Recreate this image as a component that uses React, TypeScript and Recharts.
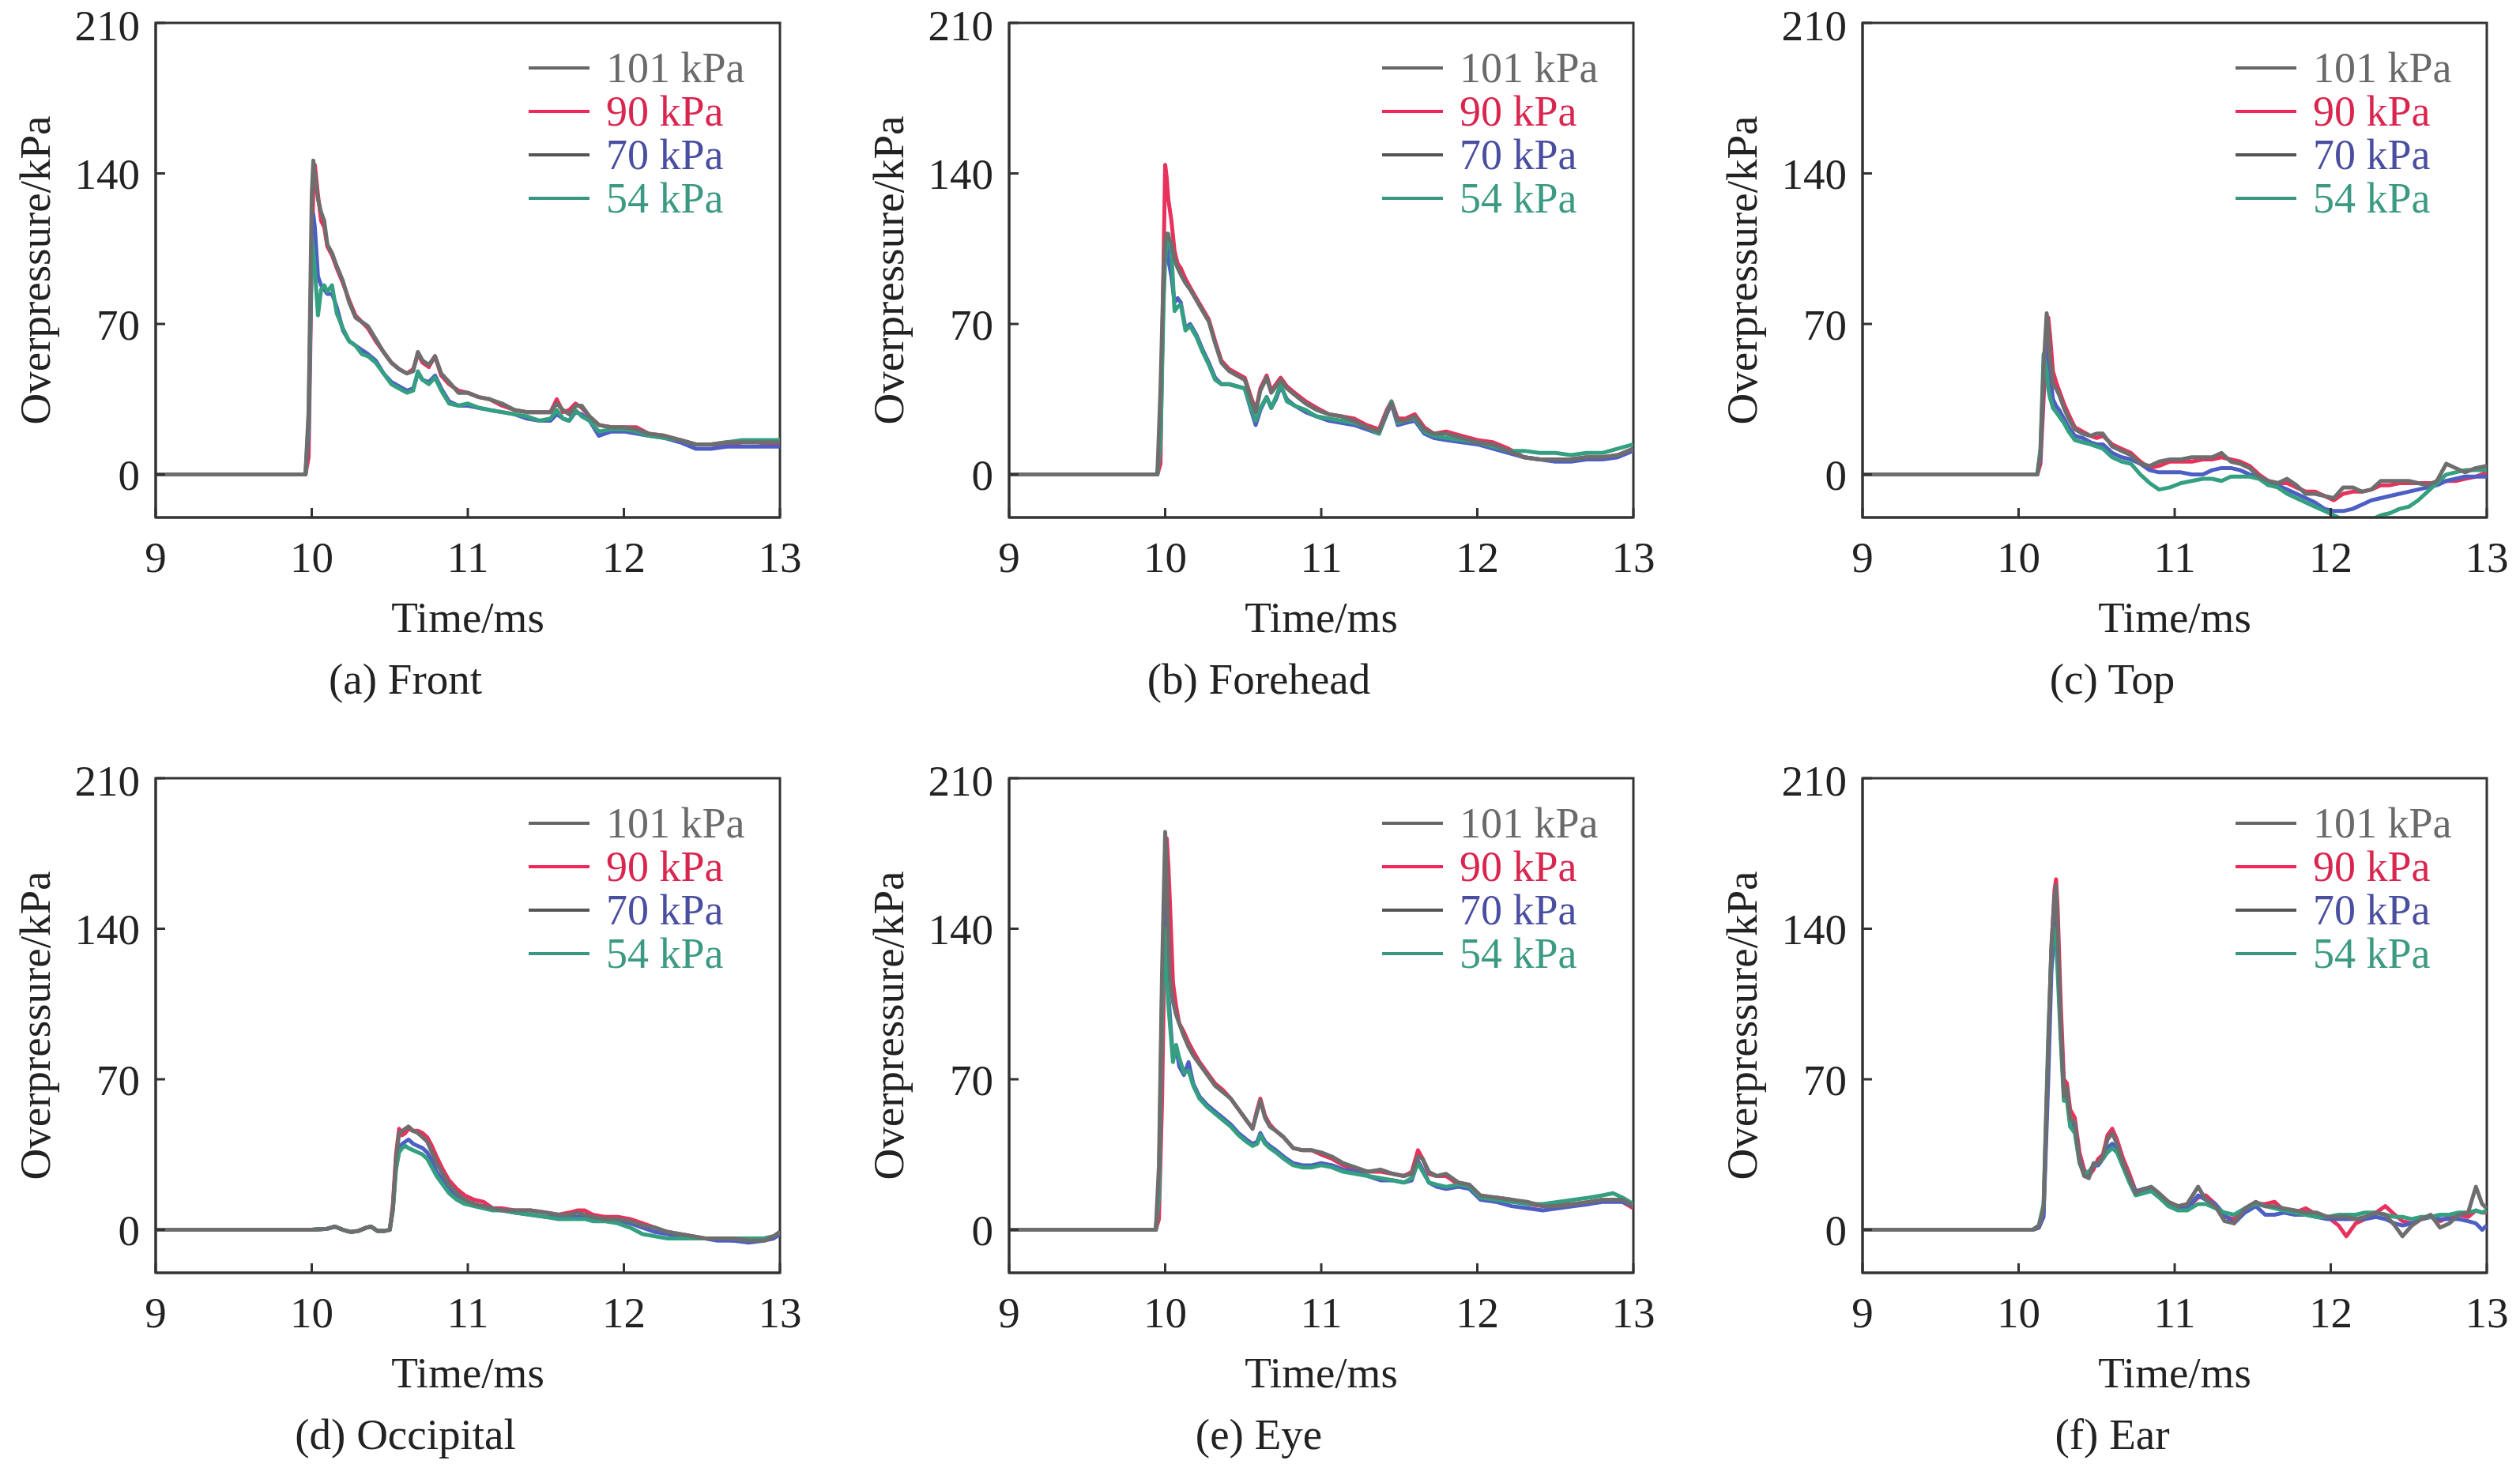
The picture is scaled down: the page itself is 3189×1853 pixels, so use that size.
import React from 'react';
import { LineChart, Line, XAxis, YAxis, ReferenceArea } from 'recharts';

// Shared axis setup for all six panels
const xTicks = [9, 10, 11, 12, 13];
const yTicks = [0, 70, 140, 210];
const seriesNames = ['101 kPa', '90 kPa', '70 kPa', '54 kPa'];
const lineColors = ['#6e6e6e', '#e8325c', '#4e5fc4', '#34a081'];
const legendLineColors = ['#666666', '#f0285a', '#555555', '#3a9582'];
const legendTextColors = ['#6a6a6a', '#d9264f', '#4a4ea0', '#3c9a82'];

// (a) Front
const frontTime = [9, 9.5, 9.96, 9.98, 10.0, 10.01, 10.02, 10.04, 10.06, 10.08, 10.1, 10.13, 10.16, 10.2, 10.24, 10.28, 10.32, 10.36, 10.41, 10.46, 10.51, 10.56, 10.61, 10.65, 10.68, 10.71, 10.75, 10.79, 10.83, 10.88, 10.94, 11.0, 11.07, 11.14, 11.22, 11.3, 11.38, 11.46, 11.53, 11.57, 11.61, 11.65, 11.69, 11.73, 11.78, 11.84, 11.92, 12.0, 12.08, 12.16, 12.26, 12.36, 12.46, 12.56, 12.66, 12.76, 12.86, 12.94, 13.0];
const front101 = [0, 0, 0, 30, 130, 146, 140, 128, 122, 118, 107, 103, 97, 90, 80, 73, 71, 69, 63, 57, 52, 49, 47, 48, 57, 53, 51, 55, 47, 43, 38, 38, 36, 35, 33, 30, 29, 29, 29, 33, 30, 28, 32, 32, 27, 23, 22, 22, 21, 19, 18, 16, 14, 14, 15, 15, 15, 15, 15];
const front90 = [0, 0, 0, 8, 100, 132, 144, 130, 118, 115, 106, 102, 96, 89, 81, 74, 71, 68, 62, 57, 52, 49, 47, 49, 56, 52, 50, 55, 46, 42, 39, 38, 36, 35, 32, 30, 29, 29, 29, 35, 29, 30, 33, 31, 27, 23, 22, 22, 22, 19, 18, 16, 14, 14, 14, 15, 15, 14, 14];
const front70 = [0, 0, 0, 20, 105, 121, 115, 92, 88, 86, 84, 84, 78, 67, 62, 60, 58, 56, 53, 47, 43, 41, 39, 40, 47, 44, 43, 46, 40, 34, 32, 32, 31, 30, 29, 28, 26, 25, 25, 28, 26, 25, 29, 28, 25, 18, 20, 20, 19, 18, 17, 15, 12, 12, 13, 13, 13, 13, 13];
const front54 = [0, 0, 0, 25, 110, 104, 95, 74, 86, 88, 85, 88, 75, 68, 62, 60, 56, 55, 52, 47, 42, 40, 38, 39, 48, 44, 42, 45, 39, 33, 32, 33, 31, 30, 29, 28, 27, 25, 26, 30, 26, 25, 30, 27, 25, 20, 21, 21, 20, 18, 17, 16, 14, 14, 15, 16, 16, 16, 16];

// (b) Forehead
const foreheadTime = [9, 9.5, 9.95, 9.97, 9.99, 10.0, 10.01, 10.02, 10.04, 10.06, 10.08, 10.1, 10.13, 10.16, 10.2, 10.24, 10.28, 10.32, 10.36, 10.41, 10.46, 10.51, 10.55, 10.58, 10.61, 10.65, 10.68, 10.71, 10.74, 10.78, 10.83, 10.9, 10.97, 11.05, 11.13, 11.21, 11.29, 11.37, 11.42, 11.45, 11.49, 11.54, 11.6, 11.66, 11.72, 11.8, 11.9, 12.0, 12.1, 12.2, 12.3, 12.4, 12.5, 12.6, 12.7, 12.8, 12.9, 13.0];
const forehead101 = [0, 0, 0, 40, 95, 108, 112, 110, 108, 100, 96, 93, 89, 86, 81, 76, 71, 61, 52, 48, 46, 44, 35, 29, 39, 45, 38, 41, 44, 40, 37, 33, 30, 28, 27, 25, 22, 20, 29, 33, 25, 25, 27, 21, 19, 19, 17, 15, 14, 11, 8, 7, 7, 7, 8, 8, 9, 12];
const forehead90 = [0, 0, 0, 5, 100, 144, 138, 128, 118, 104, 98, 96, 91, 87, 82, 77, 72, 62, 53, 49, 47, 45, 36, 30, 40, 46, 39, 42, 45, 41, 38, 34, 31, 28, 27, 26, 23, 21, 30, 34, 26, 26, 28, 22, 19, 20, 18, 16, 15, 12, 8, 7, 7, 7, 8, 8, 9, 12];
const forehead70 = [0, 0, 0, 20, 90, 105, 109, 100, 92, 80, 82, 80, 68, 70, 65, 58, 52, 45, 42, 42, 41, 40, 30, 23, 30, 36, 31, 35, 41, 35, 32, 29, 27, 25, 24, 23, 21, 19, 28, 33, 23, 24, 25, 19, 17, 16, 15, 14, 12, 10, 8, 7, 6, 6, 7, 7, 8, 11];
const forehead54 = [0, 0, 0, 15, 80, 100, 108, 112, 104, 76, 78, 79, 67, 69, 64, 57, 51, 44, 42, 42, 41, 40, 31, 25, 31, 36, 31, 36, 42, 34, 32, 30, 27, 26, 25, 24, 22, 19, 29, 34, 24, 25, 26, 20, 18, 17, 16, 15, 13, 11, 11, 10, 10, 9, 10, 10, 12, 14];

// (c) Top
const topTime = [9, 9.5, 10.0, 10.12, 10.14, 10.16, 10.18, 10.19, 10.2, 10.22, 10.24, 10.26, 10.29, 10.32, 10.36, 10.41, 10.46, 10.5, 10.54, 10.6, 10.66, 10.72, 10.78, 10.84, 10.9, 10.97, 11.04, 11.11, 11.18, 11.24, 11.3, 11.36, 11.42, 11.48, 11.54, 11.6, 11.66, 11.72, 11.78, 11.84, 11.9, 11.96, 12.02, 12.08, 12.14, 12.2, 12.26, 12.32, 12.38, 12.44, 12.5, 12.56, 12.62, 12.68, 12.74, 12.8, 12.86, 12.93, 13.0];
const top101 = [0, 0, 0, 0, 10, 50, 75, 68, 55, 42, 40, 37, 31, 26, 21, 19, 18, 19, 19, 13, 11, 9, 5, 4, 6, 7, 7, 8, 8, 8, 10, 6, 5, 3, -1, -3, -4, -2, -5, -9, -9, -10, -11, -6, -6, -8, -7, -3, -3, -3, -3, -4, -5, -3, 5, 3, 1, 3, 4];
const top90 = [0, 0, 0, 0, 5, 35, 65, 73, 66, 48, 43, 39, 33, 28, 22, 20, 18, 17, 18, 14, 12, 10, 6, 3, 4, 6, 6, 6, 7, 7, 8, 7, 6, 4, 0, -3, -4, -4, -6, -8, -8, -10, -12, -9, -8, -8, -7, -5, -5, -4, -4, -4, -4, -4, -3, -3, -2, -1, 1];
const top70 = [0, 0, 0, 0, 8, 45, 60, 55, 48, 35, 32, 30, 26, 22, 18, 17, 15, 14, 14, 10, 8, 7, 5, 2, 1, 1, 1, 0, 0, 2, 3, 3, 2, 0, -1, -4, -5, -7, -9, -11, -13, -16, -17, -17, -16, -14, -12, -11, -10, -9, -8, -7, -6, -5, -3, -2, -1, -1, -1];
const top54 = [0, 0, 0, 0, 12, 56, 48, 40, 36, 31, 29, 27, 24, 20, 16, 15, 14, 13, 12, 8, 6, 5, 0, -4, -7, -6, -4, -3, -2, -2, -3, -1, -1, -1, -2, -5, -6, -9, -11, -13, -15, -17, -19, -21, -22, -22, -21, -19, -18, -16, -15, -12, -8, -4, 0, 1, 2, 2, 2];

// (d) Occipital
const occipitalTime = [9, 9.5, 10.0, 10.1, 10.15, 10.2, 10.25, 10.3, 10.35, 10.38, 10.42, 10.47, 10.5, 10.52, 10.54, 10.56, 10.58, 10.6, 10.62, 10.65, 10.68, 10.71, 10.74, 10.77, 10.8, 10.84, 10.88, 10.93, 10.98, 11.04, 11.1, 11.16, 11.22, 11.3, 11.4, 11.5, 11.58, 11.65, 11.7, 11.75, 11.8, 11.88, 11.96, 12.04, 12.12, 12.2, 12.28, 12.36, 12.44, 12.52, 12.6, 12.7, 12.8, 12.9, 12.96, 13.0];
const occipital101 = [0, 0, 0, 0.5, 1.5, 0, -1, -0.5, 1, 1.5, -0.5, -0.5, 0, 10, 33, 45, 46, 47, 48, 46, 45, 43, 41, 36, 31, 26, 21, 17, 14, 12, 11, 10, 9, 9, 9, 8, 7, 7, 8, 7, 6, 5, 5, 4, 2, 1, -1, -2, -3, -4, -4, -4, -5, -5, -3, -1];
const occipital90 = [0, 0, 0, 0.5, 1.5, 0, -1, -0.5, 1, 1.5, -0.5, -0.5, 0, 12, 35, 47, 44, 45, 47, 46, 46, 45, 43, 39, 34, 28, 23, 19, 16, 14, 13, 10, 10, 9, 9, 8, 7, 8, 9, 9, 7, 6, 6, 5, 3, 1, -1, -2, -3, -4, -4, -5, -5, -4, -3, -1];
const occipital70 = [0, 0, 0, 0.5, 1.5, 0, -1, -0.5, 1, 1.5, -0.5, -0.5, 0, 10, 30, 38, 40, 41, 42, 40, 39, 38, 36, 32, 27, 23, 19, 16, 14, 12, 11, 10, 9, 8, 7, 6, 6, 6, 6, 6, 5, 5, 4, 3, 1, -1, -2, -3, -4, -4, -5, -5, -6, -5, -4, -2];
const occipital54 = [0, 0, 0, 0.5, 1.5, 0, -1, -0.5, 1, 1.5, -0.5, -0.5, 0, 9, 28, 36, 38, 39, 38, 37, 36, 35, 33, 29, 25, 21, 17, 14, 12, 11, 10, 9, 9, 8, 7, 6, 5, 5, 5, 5, 4, 4, 3, 1, -2, -3, -4, -4, -4, -4, -4, -4, -4, -4, -3, -1];

// (e) Eye
const eyeTime = [9, 9.5, 9.94, 9.96, 9.98, 10.0, 10.01, 10.02, 10.03, 10.05, 10.07, 10.09, 10.12, 10.15, 10.18, 10.22, 10.27, 10.32, 10.37, 10.42, 10.47, 10.52, 10.56, 10.59, 10.61, 10.64, 10.67, 10.71, 10.76, 10.82, 10.88, 10.94, 11.0, 11.07, 11.14, 11.22, 11.3, 11.38, 11.46, 11.53, 11.58, 11.62, 11.65, 11.69, 11.74, 11.8, 11.88, 11.95, 12.02, 12.12, 12.22, 12.32, 12.42, 12.52, 12.62, 12.72, 12.8, 12.87, 12.93, 13.0];
const eye101 = [0, 0, 0, 30, 120, 185, 170, 140, 118, 106, 100, 96, 90, 85, 81, 77, 72, 67, 64, 61, 56, 51, 47, 55, 60, 52, 48, 46, 43, 38, 37, 37, 36, 34, 31, 29, 27, 28, 26, 25, 26, 34, 33, 27, 25, 26, 22, 21, 16, 15, 14, 13, 11, 11, 12, 13, 14, 14, 14, 11];
const eye90 = [0, 0, 0, 5, 60, 150, 182, 170, 153, 115, 104, 96, 92, 87, 83, 78, 73, 68, 65, 61, 56, 51, 47, 56, 61, 53, 49, 46, 43, 38, 37, 37, 35, 33, 30, 28, 27, 27, 26, 25, 27, 37, 33, 26, 25, 25, 21, 20, 15, 15, 14, 12, 11, 12, 12, 13, 14, 14, 13, 10];
const eye70 = [0, 0, 0, 20, 110, 150, 130, 110, 100, 80, 85, 76, 72, 78, 68, 62, 58, 55, 52, 49, 45, 42, 40, 41, 45, 41, 39, 37, 34, 31, 30, 30, 31, 30, 28, 27, 25, 23, 23, 22, 23, 32, 28, 22, 20, 19, 20, 19, 14, 13, 11, 10, 9, 10, 11, 12, 13, 13, 13, 11];
const eye54 = [0, 0, 0, 15, 100, 140, 125, 105, 96, 78, 86, 80, 73, 74, 67, 61, 57, 54, 51, 48, 44, 41, 39, 40, 44, 40, 38, 36, 33, 30, 29, 29, 30, 29, 27, 26, 25, 24, 23, 22, 24, 31, 27, 22, 21, 20, 21, 20, 15, 14, 13, 12, 12, 13, 14, 15, 16, 17, 15, 12];

// (f) Ear
const earTime = [9, 9.5, 10.0, 10.09, 10.13, 10.16, 10.19, 10.21, 10.23, 10.24, 10.25, 10.27, 10.29, 10.31, 10.33, 10.36, 10.39, 10.42, 10.45, 10.48, 10.51, 10.54, 10.57, 10.6, 10.63, 10.67, 10.71, 10.75, 10.8, 10.85, 10.9, 10.96, 11.02, 11.08, 11.15, 11.2, 11.26, 11.32, 11.38, 11.45, 11.52, 11.58, 11.64, 11.7, 11.77, 11.84, 11.91, 11.98, 12.05, 12.1, 12.16, 12.22, 12.29, 12.35, 12.41, 12.46, 12.52, 12.58, 12.64, 12.7, 12.76, 12.82, 12.88, 12.93, 12.97, 13.0];
const ear101 = [0, 0, 0, 0, 2, 10, 85, 132, 155, 160, 140, 95, 62, 66, 52, 50, 32, 25, 24, 31, 31, 34, 42, 45, 40, 31, 24, 17, 19, 20, 17, 13, 11, 12, 20, 14, 11, 4, 3, 10, 13, 11, 11, 10, 9, 8, 8, 6, 6, 6, 5, 6, 8, 7, 2, -3, 2, 5, 7, 1, 3, 7, 8, 20, 12, 10];
const ear90 = [0, 0, 0, 0, 1, 8, 80, 130, 158, 163, 150, 105, 70, 68, 56, 52, 36, 28, 25, 28, 33, 35, 44, 47, 42, 33, 26, 18, 18, 19, 16, 13, 11, 10, 15, 16, 12, 6, 5, 9, 12, 12, 13, 9, 8, 10, 7, 6, 2, -3, 3, 5, 8, 11, 7, 4, 3, 5, 6, 4, 6, 7, 6, 9, 8, 8];
const ear70 = [0, 0, 0, 0, 1, 6, 70, 120, 140, 145, 130, 92, 64, 62, 50, 48, 33, 26, 25, 30, 30, 33, 38, 40, 38, 30, 24, 18, 19, 19, 16, 12, 10, 10, 16, 14, 12, 7, 3, 8, 11, 7, 7, 8, 7, 7, 6, 5, 5, 5, 5, 5, 6, 5, 3, 2, 3, 5, 6, 5, 5, 5, 4, 3, 0, 2];
const ear54 = [0, 0, 0, 0, 2, 12, 90, 130, 140, 135, 120, 88, 60, 60, 48, 45, 31, 26, 27, 30, 31, 33, 36, 38, 36, 29, 22, 16, 17, 18, 15, 11, 9, 9, 12, 12, 10, 8, 7, 10, 12, 11, 10, 9, 8, 7, 6, 6, 7, 7, 7, 8, 8, 7, 6, 6, 5, 6, 6, 7, 7, 8, 8, 9, 8, 9];

const FONT = '"Liberation Serif", "Times New Roman", serif';
const FS = 55;
const PLOT_LEFT = 197;
const PLOT_TOP = 29;
const PLOT_W = 790;
const PLOT_H = 626;
const CHART_W = 1025;
const CHART_H = 815;

interface PanelProps {
  left: number;
  top: number;
  caption: string;
  time: number[];
  p101: number[];
  p90: number[];
  p70: number[];
  p54: number[];
}

function Panel({ left, top, caption, time, p101, p90, p70, p54 }: PanelProps) {
  const data = time.map((t, i) => ({ t, p101: p101[i], p90: p90[i], p70: p70[i], p54: p54[i] }));
  const plotCenterX = PLOT_LEFT + PLOT_W / 2;

  // draw order: red, blue, teal, then gray on top
  const order: [string, number][] = [['p90', 1], ['p70', 2], ['p54', 3], ['p101', 0]];

  return (
    <div style={{ position: 'absolute', left, top, width: CHART_W, height: 940 }}>
      <LineChart
        width={CHART_W}
        height={CHART_H}
        data={data}
        margin={{ top: PLOT_TOP, right: CHART_W - PLOT_LEFT - PLOT_W, bottom: 0, left: PLOT_LEFT - 150 }}
      >
        <ReferenceArea x1={9} x2={13} y1={-20} y2={210} fill="none" stroke="#333" strokeWidth={3} />
        <XAxis
          dataKey="t"
          type="number"
          domain={[9, 13]}
          ticks={xTicks}
          allowDataOverflow
          height={CHART_H - PLOT_TOP - PLOT_H}
          tickSize={-12}
          tickMargin={42}
          stroke="#333"
          strokeWidth={3}
          tick={{ fontSize: FS, fill: '#222', fontFamily: FONT }}
        />
        <YAxis
          type="number"
          domain={[-20, 210]}
          ticks={yTicks}
          allowDataOverflow
          width={150}
          tickSize={-12}
          tickMargin={32}
          stroke="#333"
          strokeWidth={3}
          tick={{ fontSize: FS, fill: '#222', fontFamily: FONT }}
        />
        {order.map(([key, ci]) => (
          <Line
            key={key}
            type="linear"
            dataKey={key}
            stroke={lineColors[ci]}
            strokeWidth={5}
            strokeLinejoin="round"
            dot={false}
            isAnimationActive={false}
          />
        ))}
      </LineChart>

      {/* legend */}
      {seriesNames.map((name, i) => (
        <div
          key={name}
          style={{
            position: 'absolute',
            left: 669,
            top: 86 + 55 * i - 28,
            height: 56,
            display: 'flex',
            alignItems: 'center',
            fontFamily: FONT,
            fontSize: 54,
            lineHeight: '56px',
            whiteSpace: 'nowrap',
          }}
        >
          <div style={{ width: 77, height: 4, background: legendLineColors[i], marginRight: 21 }} />
          <span style={{ color: legendTextColors[i] }}>{name}</span>
        </div>
      ))}

      {/* axis titles and caption */}
      <div
        style={{
          position: 'absolute',
          left: 44,
          top: PLOT_TOP + PLOT_H / 2,
          transform: 'translate(-50%, -50%) rotate(-90deg)',
          fontFamily: FONT,
          fontSize: FS,
          lineHeight: 1,
          whiteSpace: 'nowrap',
          color: '#222',
        }}
      >
        Overpressure/kPa
      </div>
      <div
        style={{
          position: 'absolute',
          left: plotCenterX,
          top: 754,
          transform: 'translateX(-50%)',
          fontFamily: FONT,
          fontSize: FS,
          lineHeight: 1,
          whiteSpace: 'nowrap',
          color: '#222',
        }}
      >
        Time/ms
      </div>
      <div
        style={{
          position: 'absolute',
          left: plotCenterX - 79,
          top: 832,
          transform: 'translateX(-50%)',
          fontFamily: FONT,
          fontSize: FS,
          lineHeight: 1,
          whiteSpace: 'nowrap',
          color: '#222',
        }}
      >
        {caption}
      </div>
    </div>
  );
}

export default function App() {
  return (
    <div
      style={{
        position: 'absolute',
        left: 0,
        top: 0,
        width: 3189,
        height: 1853,
        overflow: 'hidden',
        background: '#ffffff',
      }}
    >
      <Panel left={0} top={0} caption="(a) Front" time={frontTime} p101={front101} p90={front90} p70={front70} p54={front54} />
      <Panel left={1080} top={0} caption="(b) Forehead" time={foreheadTime} p101={forehead101} p90={forehead90} p70={forehead70} p54={forehead54} />
      <Panel left={2160} top={0} caption="(c) Top" time={topTime} p101={top101} p90={top90} p70={top70} p54={top54} />
      <Panel left={0} top={956} caption="(d) Occipital" time={occipitalTime} p101={occipital101} p90={occipital90} p70={occipital70} p54={occipital54} />
      <Panel left={1080} top={956} caption="(e) Eye" time={eyeTime} p101={eye101} p90={eye90} p70={eye70} p54={eye54} />
      <Panel left={2160} top={956} caption="(f) Ear" time={earTime} p101={ear101} p90={ear90} p70={ear70} p54={ear54} />
    </div>
  );
}
